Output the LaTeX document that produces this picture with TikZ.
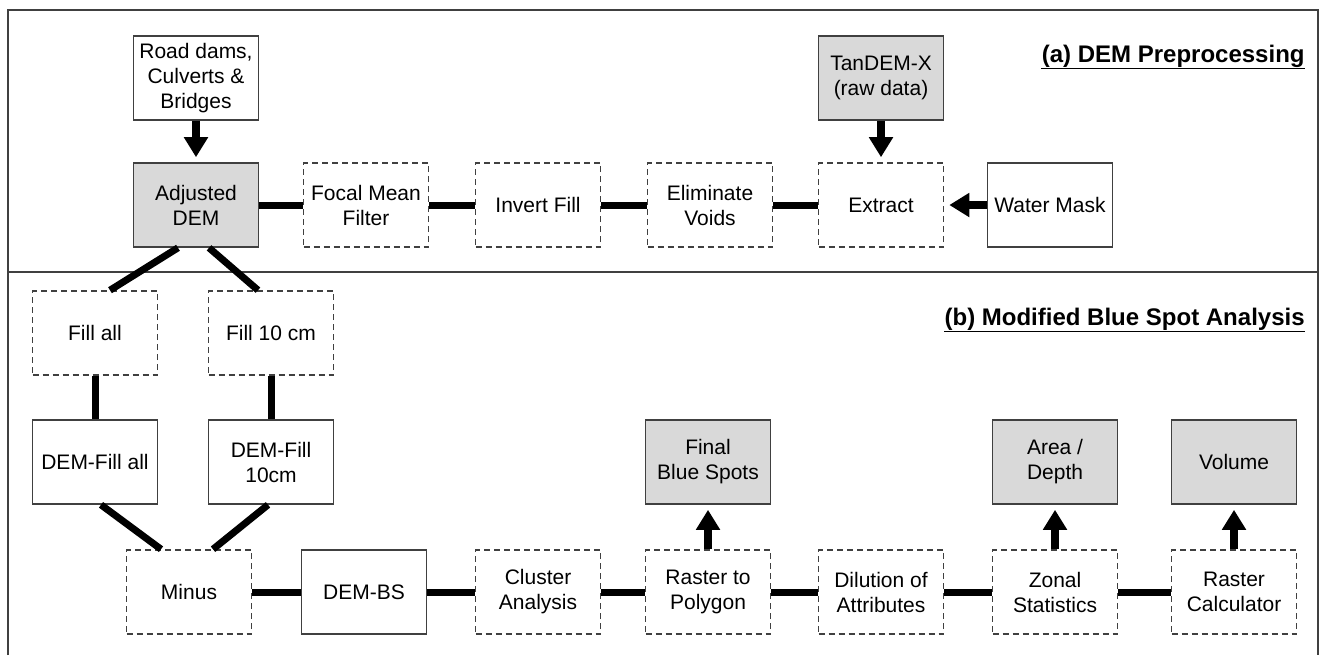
\documentclass[tikz,border=0pt]{standalone}
\usepackage{fontspec}
\setmainfont{Liberation Sans}
\usetikzlibrary{arrows.meta}
\definecolor{boxgray}{HTML}{D9D9D9}
\definecolor{linegray}{HTML}{404040}

\begin{document}
\begin{tikzpicture}[x=0.5pt,y=-0.5pt,
    font=\fontsize{10.5}{12.5}\selectfont,
    box/.style={draw=linegray, line width=0.8pt, minimum width=62.5pt,
      minimum height=42pt, align=center, inner sep=2pt},
    proc/.style={box, dash pattern=on 3pt off 2pt},
    result/.style={box, fill=boxgray},
    link/.style={line width=3.5pt},
    flow/.style={line width=4pt, -{Triangle[width=11.5pt,length=10pt]},
      shorten >=2.5pt},
    title/.style={font=\bfseries\fontsize{12}{14}\selectfont,
      anchor=base east, inner sep=0pt},
    uline/.style={line width=0.9pt}
  ]

  \useasboundingbox (0,0) rectangle (1320,655);

  % Frame and divider
  \draw[linegray, line width=0.8pt] (8,655) -- (8,10) -- (1318,10) -- (1318,655);
  \draw[linegray, line width=0.8pt] (8,272) -- (1318,272);
  \node[title] (titlea) at (1305,62) {(a) DEM Preprocessing};
  \node[title] (titleb) at (1305,325) {(b) Modified Blue Spot Analysis};
  \draw[uline] ([yshift=-3.2pt]titlea.base west) -- ([yshift=-3.2pt]titlea.base east);
  \draw[uline] ([yshift=-3.2pt]titleb.base west) -- ([yshift=-3.2pt]titleb.base east);

  % (a) nodes
  \node[box] (road) at (196,78) {Road dams,\\Culverts \&\\Bridges};
  \node[result] (dem) at (196,205) {Adjusted\\DEM};
  \node[proc] (focal) at (366,205) {Focal Mean\\Filter};
  \node[proc] (invert) at (538,205) {Invert Fill};
  \node[proc] (voids) at (710,205) {Eliminate\\Voids};
  \node[proc] (extract) at (881,205) {Extract};
  \node[result] (tandem) at (881,78) {TanDEM-X\\(raw data)};
  \node[box] (mask) at (1050,205) {Water Mask};

  % (b) nodes
  \node[proc] (fillall) at (95,333) {Fill all};
  \node[proc] (fill10) at (271,333) {Fill 10 cm};
  \node[box] (demall) at (95,462) {DEM-Fill all};
  \node[box] (dem10) at (271,462) {DEM-Fill\\10cm};
  \node[proc] (minus) at (189,592) {Minus};
  \node[box] (dembs) at (364,592) {DEM-BS};
  \node[proc] (cluster) at (538,592) {Cluster\\Analysis};
  \node[proc] (polygon) at (708,592) {Raster to\\Polygon};
  \node[result] (spots) at (708,462) {Final\\Blue Spots};
  \node[proc] (dilution) at (881,592) {Dilution of\\Attributes};
  \node[proc] (zonal) at (1055,592) {Zonal\\Statistics};
  \node[result] (area) at (1055,462) {Area /\\Depth};
  \node[proc] (calc) at (1234,592) {Raster\\Calculator};
  \node[result] (volume) at (1234,462) {Volume};

  % Draw lines and arrows
  \foreach \a/\b in {dem/focal, focal/invert, invert/voids, voids/extract,
      fillall/demall, fill10/dem10, minus/dembs, dembs/cluster,
      cluster/polygon, polygon/dilution, dilution/zonal, zonal/calc}
    \draw[link] (\a) -- (\b);
  \draw[link] ([xshift=-9pt]dem.south) -- ([xshift=7.5pt]fillall.north);
  \draw[link] ([xshift=6.5pt]dem.south) -- ([xshift=-6.5pt]fill10.north);
  \draw[link] ([xshift=3pt]demall.south) -- ([xshift=-14pt]minus.north);
  \draw[link] ([xshift=-1.5pt]dem10.south) -- ([xshift=12pt]minus.north);

  \foreach \a/\b in {road/dem, tandem/extract, mask/extract,
      polygon/spots, zonal/area, calc/volume}
    \draw[flow] (\a) -- (\b);

\end{tikzpicture}
\end{document}
